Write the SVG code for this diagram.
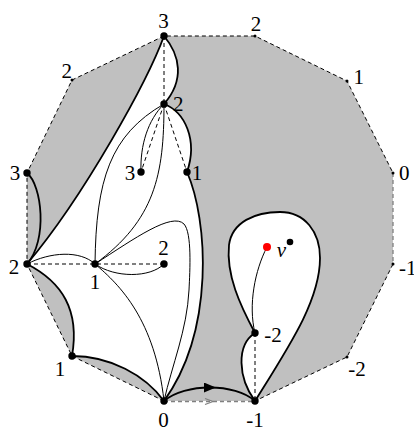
<svg xmlns="http://www.w3.org/2000/svg" width="414" height="431" viewBox="0 0 414 431">
<style>
.edge{fill:none;stroke:#000;stroke-width:1;stroke-dasharray:4 3}
.gedge{fill:none;stroke:#808080;stroke-width:1.3;stroke-dasharray:4 3}
.thick{fill:none;stroke:#000;stroke-width:1.8}
.thin{fill:none;stroke:#000;stroke-width:1}
.dash{fill:none;stroke:#000;stroke-width:1;stroke-dasharray:4 3}
.lbl{font-family:"Liberation Serif","DejaVu Serif",serif;font-size:21px;text-anchor:middle;fill:#000}
.big{fill:#000}
</style>
<defs>
<marker id="arr" viewBox="0 0 12 10" refX="6" refY="5" markerWidth="12" markerHeight="10" markerUnits="userSpaceOnUse" orient="auto">
<path d="M0,0 L12,5 L0,10 Z" fill="#000"/>
</marker>
</defs>
<rect width="414" height="431" fill="#fff"/>
<polygon points="164,36 255,36 347,81 393,173 393,264 347,357 255,401 164,401 72,356 27,264 27,173 72,80" fill="#c0c0c0"/>
<path d="M164,36 C148,80 85,195 27,264 C62,282 80,310 72,356 C110,356 145,375 164,401 C215,330 208,220 187,172 C198,140 185,112 164,104 C185,80 180,55 164,36 Z" fill="#fff"/>
<path d="M255,333 C240,305 226,275 229,245 C232,222 255,212 280,212 C305,212 320,232 320,258 C320,300 290,345 255,401 C238,378 236,345 255,333 Z" fill="#fff"/>
<g id="boundary">
<polyline class="edge" points="393,264 347,357 255,401"/>
<polyline class="edge" points="164,401 72,356 27,264 27,173 72,80 164,36 255,36 347,81 393,173"/>
<line class="gedge" x1="393" y1="173" x2="393" y2="264"/>
<line class="gedge" x1="164" y1="401.5" x2="255" y2="401.5"/>
<polyline points="205,398.5 213,401.5 205,404.5" fill="none" stroke="#808080" stroke-width="1.2"/>
</g>
<g id="connectors">
<path class="thick" d="M164,36 C148,80 85,195 27,264"/>
<path class="thick" d="M164,36 C180,55 185,80 164,104"/>
<path class="thick" d="M164,104 C185,112 198,140 187,172"/>
<path class="thick" d="M187,172 C208,220 215,330 164,401"/>
<path class="thick" d="M72,356 C110,356 145,375 164,401"/>
<path class="thick" d="M27,264 C62,282 80,310 72,356"/>
<path class="thick" d="M27,173 C42,185 48,240 27,264"/>
<path class="thick" d="M164,401 C174.5,392 192.25,387.5 209.9,387.5 C227.5,387.5 245,392 255,401" marker-mid="url(#arr)"/>
<path class="thick" d="M255,333 C240,305 226,275 229,245 C232,222 255,212 280,212 C305,212 320,232 320,258 C320,300 290,345 255,401"/>
<path class="thick" d="M255,401 C238,378 236,345 255,333"/>
<line class="dash" x1="164" y1="36" x2="164" y2="104"/>
<line class="dash" x1="164" y1="104" x2="141" y2="172"/>
<line class="dash" x1="164" y1="104" x2="187" y2="172"/>
<line class="dash" x1="27" y1="264" x2="164" y2="264"/>
<line class="dash" x1="255" y1="333" x2="255" y2="401"/>
<path class="thin" d="M164,104 C148,120 140,145 141,172"/>
<path class="thin" d="M164,104 C110,135 96,180 95,264"/>
<path class="thin" d="M164,104 C164,175 155,220 95,264"/>
<path class="thin" d="M27,264 C50,252 80,250 95,264"/>
<path class="thin" d="M95,264 C115,278 150,278 164,264"/>
<path class="thin" d="M95,264 C135,238 172,212 184,224 C192,233 190,270 189,290 C187,330 172,365 164,401"/>
<path class="thin" d="M95,264 C120,285 155,320 164,401"/>
<path class="thin" d="M267,247 C255,270 248,305 255,333"/>
</g>
<g font-family="Liberation Serif, DejaVu Serif, serif" font-size="21">
<g id="n-a3"><circle cx="164" cy="36" r="3.7" class="big"/><text class="lbl" x="163.5" y="27.5">3</text></g>
<g id="n-b2"><circle cx="255" cy="36" r="1.5" class="big"/><text class="lbl" x="256" y="31">2</text></g>
<g id="n-c1"><circle cx="347" cy="81" r="1.5" class="big"/><text class="lbl" x="358.7" y="84">1</text></g>
<g id="n-d0"><circle cx="393" cy="173" r="1.5" class="big"/><text class="lbl" x="404.3" y="180">0</text></g>
<g id="n-e-1"><circle cx="393" cy="264" r="1.5" class="big"/><text class="lbl" x="399" y="275" style="text-anchor:start">-1</text></g>
<g id="n-f-2"><circle cx="347" cy="357" r="1.5" class="big"/><text class="lbl" x="357" y="376">-2</text></g>
<g id="n-g-1"><circle cx="255" cy="401" r="3.7" class="big"/><text class="lbl" x="255" y="427">-1</text></g>
<g id="n-h0"><circle cx="164" cy="401" r="3.7" class="big"/><text class="lbl" x="163.5" y="427">0</text></g>
<g id="n-i1"><circle cx="72" cy="356" r="3.7" class="big"/><text class="lbl" x="60" y="376">1</text></g>
<g id="n-j2"><circle cx="27" cy="264" r="3.7" class="big"/><text class="lbl" x="14" y="273.5">2</text></g>
<g id="n-k3"><circle cx="27" cy="173" r="3.7" class="big"/><text class="lbl" x="15" y="180">3</text></g>
<g id="n-l2"><circle cx="72" cy="80" r="1.5" class="big"/><text class="lbl" x="66.7" y="77.5">2</text></g>
<g id="n-p2"><circle cx="164" cy="104" r="3.7" class="big"/><text class="lbl" x="178.3" y="111">2</text></g>
<g id="n-q3"><circle cx="141" cy="172" r="3.7" class="big"/><text class="lbl" x="130" y="180">3</text></g>
<g id="n-r1"><circle cx="187" cy="172" r="3.7" class="big"/><text class="lbl" x="197" y="180">1</text></g>
<g id="n-s1"><circle cx="95" cy="264" r="3.7" class="big"/><text class="lbl" x="95" y="288.5">1</text></g>
<g id="n-t2"><circle cx="164" cy="264" r="3.7" class="big"/><text class="lbl" x="163.5" y="255">2</text></g>
<g id="n-u-2"><circle cx="255" cy="333" r="3.7" class="big"/><text class="lbl" x="273" y="341.5">-2</text></g>
<g id="n-v"><circle cx="267" cy="247" r="4" fill="#ff0000"/><text class="lbl" x="281.5" y="257" style="font-style:italic">v</text></g>
<g id="n-w"><circle cx="290" cy="242" r="3.3" class="big"/></g>
</g>
</svg>
